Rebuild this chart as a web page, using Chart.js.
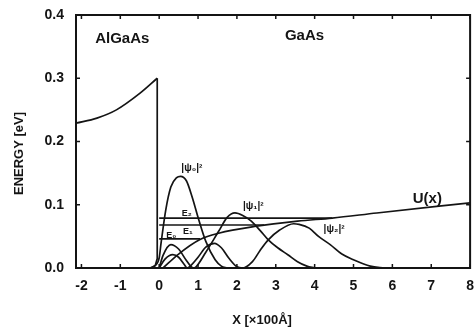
<!DOCTYPE html>
<html>
<head>
<meta charset="utf-8">
<script src="https://cdn.jsdelivr.net/npm/chart.js@4"></script>
<style>
  html, body { margin: 0; padding: 0; background: #fff; }
</style>
</head>
<body>
<canvas id="bandChart" width="476" height="328"></canvas>
<script>
// position in units of 100 Å, energy in eV
const xTicks = [-2, -1, 0, 1, 2, 3, 4, 5, 6, 7, 8]
const yTicks = [0, 0.1, 0.2, 0.3, 0.4]

// conduction band on the AlGaAs side and the step at the interface
const barrierX = [-2.14, -1.6, -1.1, -0.5, -0.05]
const barrierE = [0.229, 0.237, 0.25, 0.276, 0.30]
const stepX = [-0.05, -0.05, -0.1, -0.22]
const stepE = [0.30, 0.015, 0.004, 0]

// band bending in GaAs
const uX = [0.1, 0.5, 1.05, 1.53, 2.5, 3.56, 4.45, 5.6, 8]
const uE = [0, 0.022, 0.045, 0.055, 0.066, 0.074, 0.079, 0.087, 0.103]

// subband levels and where they meet U(x)
const levelE = [0.046, 0.068, 0.079]
const levelEnd = [1.05, 2.7, 4.45]

// |psi|^2 of the three subbands
const psi0X = [-0.25, -0.1, 0, 0.05, 0.17, 0.3, 0.45, 0.55, 0.7, 0.85, 1.02, 1.2, 1.44, 1.6, 1.75]
const psi0Y = [0, 0.004, 0.016, 0.04, 0.092, 0.128, 0.143, 0.145, 0.138, 0.112, 0.076, 0.042, 0.013, 0.003, 0]
const psi1X = [0, 0.1, 0.3, 0.5, 0.7, 0.88, 0.95, 1.2, 1.53, 1.75, 1.95, 2.15, 2.37, 2.6, 2.8, 3.05, 3.31, 3.56, 3.8, 4.0]
const psi1Y = [0, 0.02, 0.037, 0.03, 0.012, 0, 0.002, 0.025, 0.058, 0.08, 0.087, 0.083, 0.074, 0.059, 0.045, 0.032, 0.021, 0.01, 0.003, 0]
const psi2X = [0, 0.15, 0.35, 0.5, 0.65, 0.72, 0.8, 1.0, 1.2, 1.42, 1.6, 1.8, 2.0, 2.15, 2.4, 2.6, 2.8, 3.1, 3.46, 3.6, 3.86, 4.1, 4.4, 4.7, 5.0, 5.43, 5.8]
const psi2Y = [0, 0.014, 0.021, 0.017, 0.005, 0, 0.003, 0.017, 0.033, 0.039, 0.032, 0.015, 0.002, 0, 0.01, 0.028, 0.044, 0.06, 0.07, 0.069, 0.063, 0.05, 0.037, 0.022, 0.013, 0.003, 0]

// text placed in data coordinates
const regionText = ['AlGaAs', 'GaAs', 'U(x)']
const regionX = [-0.95, 3.74, 6.9]
const regionY = [0.362, 0.367, 0.109]
const psiText = ['|ψ₀|²', '|ψ₁|²', '|ψ₂|²']
const psiLabelX = [0.84, 2.42, 4.5]
const psiLabelY = [0.158, 0.098, 0.061]
const levelText = ['E₀', 'E₁', 'E₂']
const levelLabelX = [0.31, 0.74, 0.71]
const levelLabelY = [0.051, 0.057, 0.086]

const xTitle = 'X [×100Å]'
const yTitle = 'ENERGY [eV]'

const ink = '#141414'
const face = '"Liberation Sans", Arial, sans-serif'
const pts = (xs, ys) => xs.map((v, i) => ({ x: v, y: ys[i] }))

function curve(data, smooth) {
  return {
    data: data,
    borderColor: ink,
    borderWidth: 1.7,
    pointRadius: 0,
    fill: false,
    cubicInterpolationMode: smooth ? 'monotone' : 'default',
    tension: 0
  }
}

const datasets = [
  curve(pts(barrierX, barrierE), true),
  curve(pts(stepX, stepE), false),
  curve(pts(uX, uE), true),
  curve(pts(psi0X, psi0Y), true),
  curve(pts(psi1X, psi1Y), true),
  curve(pts(psi2X, psi2Y), true)
]
levelE.forEach((e, i) => {
  datasets.push(curve([{ x: 0, y: e }, { x: levelEnd[i], y: e }], false))
})

// box, inward ticks, axis titles and in-plot text
const frame = {
  id: 'frame',
  afterDatasetsDraw(chart) {
    const { ctx, chartArea: a, scales: { x, y } } = chart
    ctx.save()
    ctx.strokeStyle = ink
    ctx.lineWidth = 2
    ctx.strokeRect(a.left, a.top, a.right - a.left, a.bottom - a.top)
    ctx.lineWidth = 1.5
    ctx.beginPath()
    xTicks.forEach(v => {
      const px = x.getPixelForValue(v)
      ctx.moveTo(px, a.bottom); ctx.lineTo(px, a.bottom - 4)
      ctx.moveTo(px, a.top); ctx.lineTo(px, a.top + 4)
    })
    yTicks.forEach(v => {
      const py = y.getPixelForValue(v)
      ctx.moveTo(a.left, py); ctx.lineTo(a.left + 4, py)
      ctx.moveTo(a.right, py); ctx.lineTo(a.right - 4, py)
    })
    ctx.stroke()

    ctx.fillStyle = ink
    ctx.textAlign = 'center'
    ctx.textBaseline = 'middle'
    const put = (texts, xs, ys, font) => {
      ctx.font = font
      texts.forEach((t, i) => ctx.fillText(t, x.getPixelForValue(xs[i]), y.getPixelForValue(ys[i])))
    }
    put(regionText, regionX, regionY, 'bold 15px ' + face)
    put(psiText, psiLabelX, psiLabelY, 'bold 10px ' + face)
    put(levelText, levelLabelX, levelLabelY, 'bold 9px ' + face)

    // axis titles sit a little left of / below the middle of the box
    ctx.font = 'bold 13px ' + face
    ctx.fillText(xTitle, (a.left + a.right) / 2 - 11, chart.height - 8)
    ctx.translate(19, (a.top + a.bottom) / 2 + 12)
    ctx.rotate(-Math.PI / 2)
    ctx.fillText(yTitle, 0, 0)
    ctx.restore()
  }
}

const tickFont = { family: face, size: 14, weight: 'bold' }

new Chart(document.getElementById('bandChart'), {
  type: 'line',
  data: { datasets: datasets },
  options: {
    responsive: false,
    animation: false,
    devicePixelRatio: 1,
    layout: { padding: { top: 15, right: 3, left: 0, bottom: 0 } },
    plugins: { legend: { display: false }, tooltip: { enabled: false } },
    scales: {
      x: {
        type: 'linear',
        min: -2.14,
        max: 8,
        grid: { display: false },
        border: { display: false },
        afterBuildTicks: s => { s.ticks = xTicks.map(v => ({ value: v })) },
        afterFit: s => { s.height = 60 },
        ticks: { color: ink, font: tickFont, padding: 2, callback: v => String(v) }
      },
      y: {
        type: 'linear',
        min: 0,
        max: 0.4,
        grid: { display: false },
        border: { display: false },
        afterBuildTicks: s => { s.ticks = yTicks.map(v => ({ value: v })) },
        afterFit: s => { s.width = 76 },
        ticks: { color: ink, font: tickFont, padding: 4, callback: v => v.toFixed(1) }
      }
    }
  },
  plugins: [frame]
})
</script>
</body>
</html>
